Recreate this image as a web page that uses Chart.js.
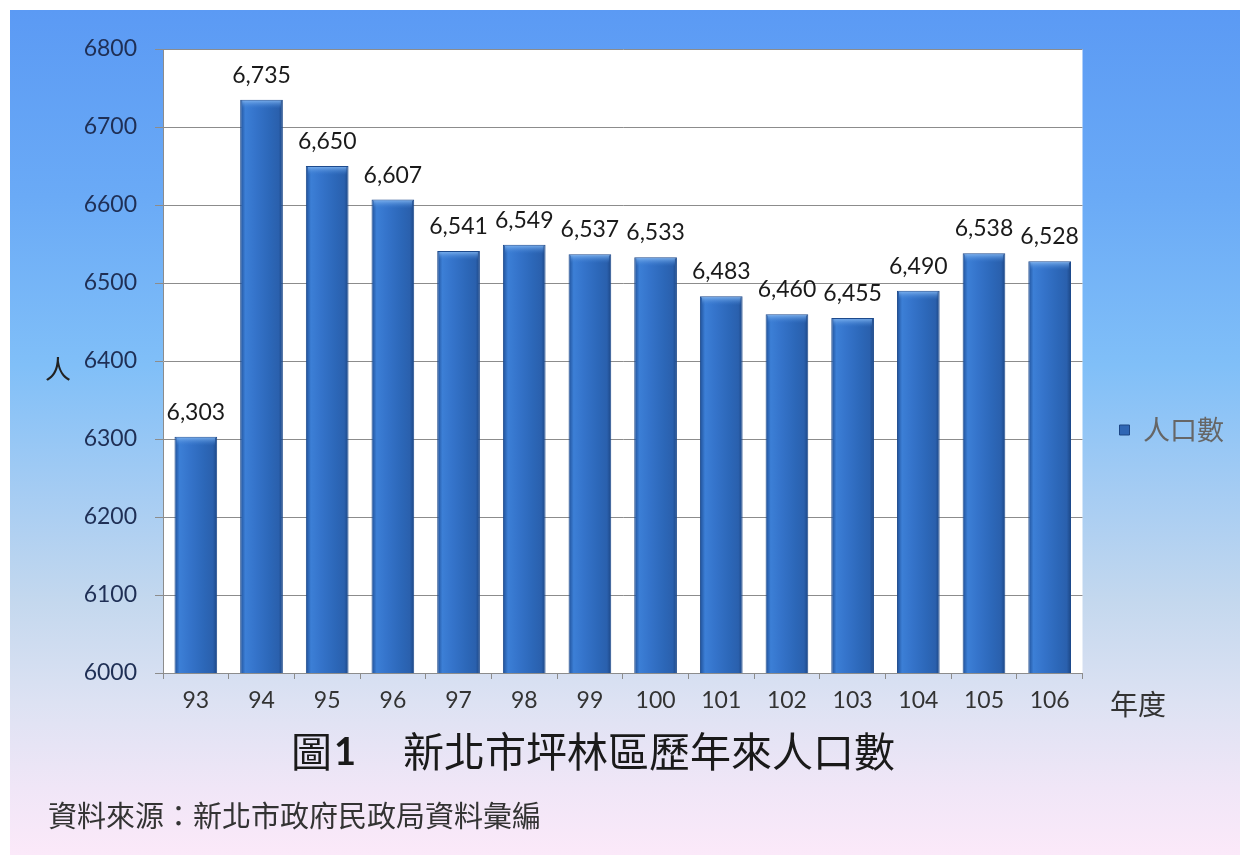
<!DOCTYPE html>
<html>
<head>
<meta charset="utf-8">
<script src="https://cdn.jsdelivr.net/npm/chart.js@4/dist/chart.umd.min.js"></script>
<style>
html,body{margin:0;padding:0;background:#fff;}
#frame{position:absolute;left:10px;top:10px;width:1230px;height:845px;
background:linear-gradient(to bottom,#5b9af4 0%,#6aaaf6 22%,#80bff8 42%,#a5ccf3 57%,#c4d8ee 70%,#dde2f3 82%,#f0e6f7 92%,#fbe9f9 100%);}
#c{position:absolute;left:0;top:0;}
</style>
</head>
<body>
<div id="frame"></div>
<canvas id="c" width="1246" height="855"></canvas>
<script>
const years = ['93','94','95','96','97','98','99','100','101','102','103','104','105','106'];
const population = [6303,6735,6650,6607,6541,6549,6537,6533,6483,6460,6455,6490,6538,6528];
const seriesName = '人口數';
const yTicks = [6000,6100,6200,6300,6400,6500,6600,6700,6800];
const chartTitleFig = '圖';
const chartTitleNum = '1';
const chartTitleText = '新北市坪林區歷年來人口數';
const sourceNote = '資料來源：新北市政府民政局資料彙編';
const yAxisTitle = '人';
const xAxisTitle = '年度';

const NUM_FONT = 'Lato, "Open Sans", sans-serif';
const CJK_FONT = '"Noto Sans CJK TC", "Noto Sans CJK SC", sans-serif';

function barGradient(ctx) {
  const chart = ctx.chart;
  const xs = chart.scales.x;
  if (!xs || ctx.dataIndex === undefined || xs.width === undefined) return '#2f6cc0';
  const cx = xs.getPixelForValue(ctx.dataIndex);
  const w = (xs.width / years.length) * 0.65;
  const g = chart.ctx.createLinearGradient(cx - w / 2, 0, cx + w / 2, 0);
  g.addColorStop(0, '#1f4f96');
  g.addColorStop(0.12, '#3c7fd6');
  g.addColorStop(0.35, '#3574cb');
  g.addColorStop(0.7, '#2c67b8');
  g.addColorStop(0.9, '#2a60ad');
  g.addColorStop(1, '#1c4684');
  return g;
}

const plotBg = {
  id: 'plotBg',
  beforeDraw(chart) {
    const {ctx, chartArea: a} = chart;
    ctx.save();
    ctx.fillStyle = '#ffffff';
    ctx.fillRect(a.left, a.top, a.right - a.left, a.bottom - a.top);
    ctx.restore();
  }
};

const extras = {
  id: 'extras',
  afterDatasetsDraw(chart) {
    const {ctx} = chart;
    const meta = chart.getDatasetMeta(0);
    ctx.save();
    meta.data.forEach((bar) => {
      const w = bar.width;
      const g = ctx.createLinearGradient(0, bar.y, 0, bar.y + 9);
      g.addColorStop(0, 'rgba(140,190,245,0.9)');
      g.addColorStop(1, 'rgba(60,125,210,0)');
      ctx.fillStyle = g;
      ctx.fillRect(bar.x - w / 2 + 2, bar.y + 1, w - 4, 9);
    });
    ctx.fillStyle = '#1a1a1a';
    ctx.font = '23px ' + NUM_FONT;
    ctx.textAlign = 'center';
    ctx.textBaseline = 'alphabetic';
    meta.data.forEach((bar, i) => {
      ctx.fillText(population[i].toLocaleString('en-US'), bar.x, bar.y - 17);
    });
    ctx.restore();
  },
  afterDraw(chart) {
    const {ctx} = chart;
    ctx.save();
    ctx.fillStyle = '#222222';
    ctx.textBaseline = 'middle';
    ctx.textAlign = 'center';
    ctx.font = '26px ' + CJK_FONT;
    ctx.fillText(yAxisTitle, 58, 369);
    ctx.font = '28px ' + CJK_FONT;
    ctx.fillStyle = '#333333';
    ctx.fillText(xAxisTitle, 1138, 704);
    // title
    ctx.fillStyle = '#1a1a1a';
    ctx.textAlign = 'left';
    ctx.font = '41px ' + CJK_FONT;
    ctx.fillText(chartTitleFig, 291, 751);
    const wFig = ctx.measureText(chartTitleFig).width;
    ctx.font = 'bold 38px ' + NUM_FONT;
    ctx.fillText(chartTitleNum, 291 + wFig + 2, 753);
    ctx.font = '41px ' + CJK_FONT;
    const wB = ctx.measureText(chartTitleText).width;
    ctx.fillText(chartTitleText, 895 - wB, 751);
    ctx.fillStyle = '#333333';
    ctx.font = '29px ' + CJK_FONT;
    ctx.fillText(sourceNote, 48, 816);
    ctx.restore();
  }
};

new Chart(document.getElementById('c'), {
  type: 'bar',
  data: {
    labels: years,
    datasets: [{
      label: seriesName,
      data: population,
      backgroundColor: barGradient,
      borderColor: '#1d4a8c',
      borderWidth: 1,
      categoryPercentage: 1.0,
      barPercentage: 0.65
    }]
  },
  options: {
    responsive: false,
    animation: false,
    devicePixelRatio: 1,
    layout: {padding: {top: 49, bottom: 122, left: 0, right: 12}},
    plugins: {
      tooltip: {enabled: false},
      title: {display: false},
      legend: {
        display: true,
        position: 'right',
        title: {display: true, text: '', padding: {top: 0, bottom: 63.6}},
        labels: {
          boxWidth: 10,
          boxHeight: 10,
          padding: 37,
          color: '#1a1a1a',
          font: {family: CJK_FONT, size: 27},
          generateLabels(chart) {
            return [{
              text: seriesName,
              fillStyle: '#2f66b4',
              strokeStyle: '#1c4684',
              lineWidth: 1,
              datasetIndex: 0
            }];
          }
        }
      }
    },
    scales: {
      x: {
        offset: true,
        grid: {display: true, drawOnChartArea: false, drawTicks: true, tickLength: 6, color: '#8c8c8c', offset: true},
        border: {display: true, color: '#8c8c8c', width: 1},
        ticks: {color: '#333333', padding: 8, font: {family: NUM_FONT, size: 23}, maxRotation: 0},
        afterFit(scale) { scale.height = 60; }
      },
      y: {
        min: 6000,
        max: 6800,
        afterBuildTicks(scale) { scale.ticks = yTicks.map(v => ({value: v})); },
        grid: {color: '#8c8c8c', lineWidth: 1, drawTicks: true, tickLength: 8},
        border: {display: true, color: '#8c8c8c', width: 1},
        ticks: {color: '#1f2f55', padding: 18, font: {family: NUM_FONT, size: 23}, callback: (v) => String(v)},
        afterFit(scale) { scale.width = 163; }
      }
    }
  },
  plugins: [plotBg, extras]
});
</script>
</body>
</html>
